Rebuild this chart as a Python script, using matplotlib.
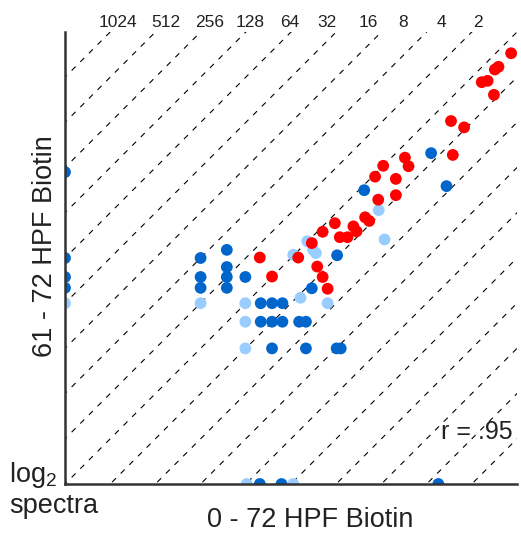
import matplotlib
matplotlib.use("Agg")
import matplotlib.pyplot as plt
import numpy as np

plt.rcParams['font.family'] = ['Liberation Sans', 'DejaVu Sans']
plt.rcParams['mathtext.fontset'] = 'custom'
plt.rcParams['mathtext.rm'] = 'Liberation Sans'

# log2 spectra: x = 0-72 HPF biotin, y = 61-72 HPF biotin
red_x = [4.31, 4.58, 5.16, 5.46, 5.58, 5.70, 5.81, 5.70, 5.97, 6.08, 6.25, 6.38, 6.45,
         6.64, 6.73, 6.93, 7.32, 6.86, 7.32, 7.04, 7.52, 7.60, 8.54, 8.83, 8.58, 9.49,
         9.22, 9.35, 9.51, 9.59, 9.87]
red_y = [5.01, 4.59, 5.01, 5.33, 4.81, 4.58, 4.32, 5.58, 5.77, 5.46, 5.46, 5.70, 5.59,
         5.90, 5.82, 6.29, 6.39, 6.80, 6.75, 7.04, 7.22, 7.03, 8.03, 7.89, 7.28, 8.61,
         8.89, 8.92, 9.17, 9.23, 9.53]

dark_x = [0.00, 0.00, 0.00, 0.00, 3.00, 3.00, 3.00, 3.58, 3.58, 3.58, 3.58, 3.99, 4.33,
          4.58, 4.81, 4.33, 4.58, 4.81, 5.18, 5.33, 4.58, 5.33, 6.01, 6.10, 5.46, 6.02,
          6.62, 8.10, 8.44, 4.31, 4.79, 8.26]
dark_y = [6.90, 5.00, 4.58, 4.34, 5.00, 4.58, 4.34, 5.18, 4.80, 4.58, 4.34, 4.58, 4.00,
          4.00, 4.00, 3.59, 3.59, 3.59, 3.59, 3.59, 3.00, 3.00, 3.00, 3.00, 4.33, 5.06,
          6.50, 7.32, 6.59, 0.00, 0.00, 0.00]

light_x = [0.00, 3.00, 3.99, 3.99, 3.99, 5.21, 5.81, 5.05, 5.36, 5.49, 5.55, 6.94, 7.07,
           4.02, 5.05]
light_y = [4.00, 4.00, 4.00, 3.59, 3.00, 4.12, 4.00, 5.07, 5.37, 5.18, 5.11, 6.06, 5.41,
           0.00, 0.00]

fold_labels = ['1024', '512', '256', '128', '64', '32', '16', '8', '4', '2']
fold_label_x = [1.18, 2.23, 3.20, 4.09, 4.98, 5.80, 6.72, 7.48, 8.33, 9.14]
line_offsets = list(range(-9, 10))

fig = plt.figure(figsize=(5.21, 5.33), dpi=100)
ax = fig.add_axes([65/521, 49/533, 452/521, 452/533])
ax.set_xlim(0, 10)
ax.set_ylim(0, 10)

xx = np.array([-1, 11])
for c in line_offsets:
    ax.plot(xx, xx + c, color='black', lw=0.8, linestyle=(0, (5, 6)), zorder=1)

ms = 72
ax.scatter(light_x, light_y, s=ms, color='#99CCFF', edgecolors='none', zorder=3)
ax.scatter(dark_x, dark_y, s=ms, color='#0066CC', edgecolors='none', zorder=4)
ax.scatter(red_x, red_y, s=ms, color='#FF0000', edgecolors='none', zorder=5)

for s in ['top', 'right']:
    ax.spines[s].set_visible(False)
for s in ['left', 'bottom']:
    ax.spines[s].set_linewidth(1.8)
    ax.spines[s].set_color('#333333')
    ax.spines[s].set_zorder(6)
ax.set_xticks([])
ax.set_yticks([])

tc = '#222222'
for lab, lx in zip(fold_labels, fold_label_x):
    ax.text(lx, 1.0 + 5/452, lab, ha='center', va='baseline', fontsize=12.5, color=tc,
            transform=ax.get_xaxis_transform())

ax.text(9.91, 1.15, 'r = .95', ha='right', va='center', fontsize=18, color=tc)

fig.text(310/521, 1 - 527/533, '0 - 72 HPF Biotin', ha='center', va='baseline',
         fontsize=19.5, color=tc)
fig.text(45/521, 1 - 246/533, '61 - 72 HPF Biotin', ha='center', va='center',
         fontsize=19.5, color=tc, rotation=90)
fig.text(9/521, 1 - 482/533, r'$\mathregular{log_2}$', ha='left', va='baseline',
         fontsize=19.5, color=tc)
fig.text(9/521, 1 - 513/533, 'spectra', ha='left', va='baseline',
         fontsize=19.5, color=tc)

fig.savefig('out.png', dpi=100)
